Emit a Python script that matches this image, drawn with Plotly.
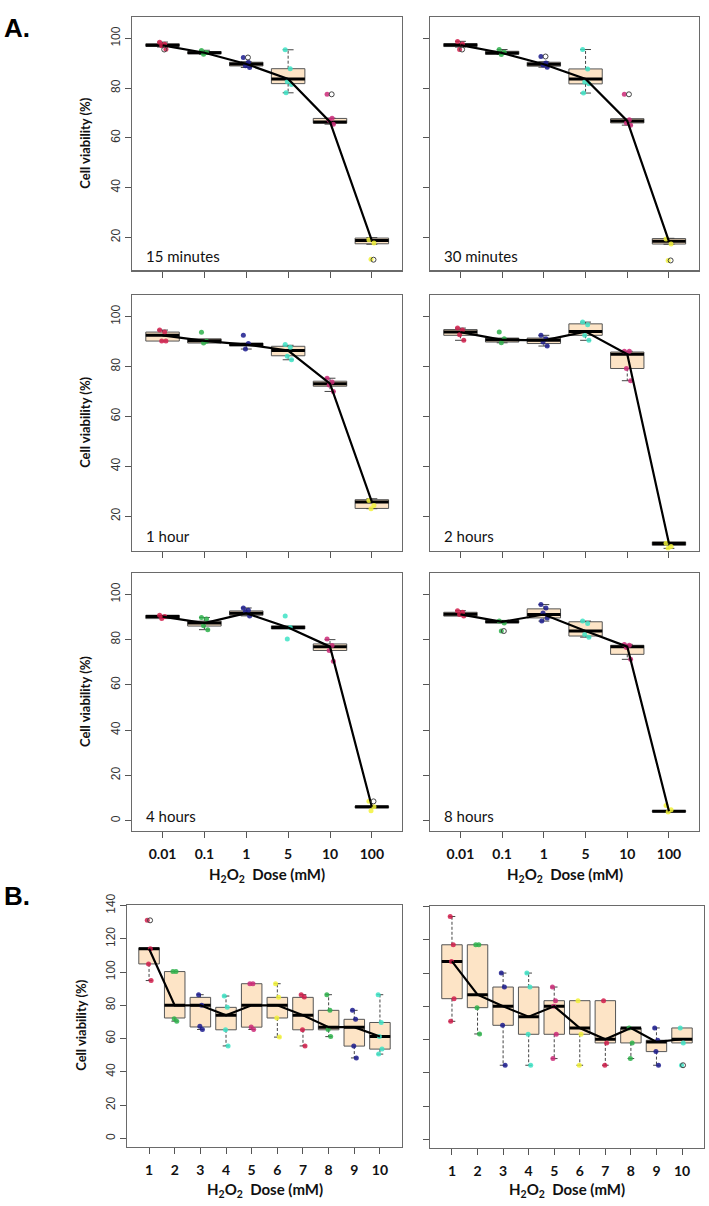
import plotly.graph_objects as go

W, H = 709, 1206

# ---------------- data ----------------
doses_a = ["0.01", "0.1", "1", "5", "10", "100"]
doses_b = ["1", "2", "3", "4", "5", "6", "7", "8", "9", "10"]
panel_labels = ["15 minutes", "30 minutes", "1 hour", "2 hours", "4 hours", "8 hours"]

# Panel A1: 15 minutes
m15_q1 = [96.8, 93.8, 88.9, 81.8, 65.9, 17.4]
m15_med = [97.2, 94.2, 89.7, 83.7, 66.4, 18.7]
m15_q3 = [97.8, 94.7, 90.4, 87.8, 67.8, 19.7]
m15_lo = [96.5, 93.6, 88.3, 78.1, 65.5, 17.2]
m15_hi = [98.5, 95.2, 90.6, 95.4, 67.9, 19.9]
m15_pts = [[98.4, 97.6, 97.0, 95.6], [95.1, 94.3, 93.6], [92.3, 90.4, 89.0, 88.3],
           [95.4, 87.8, 82.5, 81.4, 78.1], [77.5, 67.9, 67.1, 65.5], [19.0, 17.7, 11.2]]
m15_out = [[95.5], [], [92.3], [], [77.5], [11.0]]

# Panel A2: 30 minutes
m30_q1 = [96.7, 93.6, 88.8, 81.7, 66.0, 17.3]
m30_med = [97.3, 94.1, 89.6, 83.7, 66.8, 18.4]
m30_q3 = [97.9, 94.8, 90.4, 87.7, 67.7, 19.5]
m30_lo = [96.5, 93.5, 88.4, 78.0, 65.1, 17.2]
m30_hi = [98.8, 95.5, 90.6, 95.5, 67.7, 19.6]
m30_pts = [[98.7, 97.7, 95.5], [95.5, 94.4, 93.5], [92.7, 90.1, 89.3, 88.4],
           [95.5, 87.7, 82.4, 81.7, 78.0], [77.5, 67.3, 66.0, 65.1], [19.3, 17.3, 10.7]]
m30_out = [[95.5], [], [92.7], [], [77.5], [10.7]]

# Panel A3: 1 hour
h1_q1 = [90.2, 89.4, 88.2, 84.3, 72.1, 23.1]
h1_med = [92.5, 90.3, 88.8, 86.4, 73.1, 25.7]
h1_q3 = [93.8, 91.1, 89.4, 88.1, 74.1, 26.6]
h1_lo = [90.2, 89.4, 87.0, 82.7, 70.0, 23.0]
h1_hi = [94.6, 91.1, 89.4, 88.5, 75.3, 27.0]
h1_pts = [[94.6, 93.8, 90.2, 90.2], [93.7, 90.1, 89.4], [92.5, 89.2, 87.0],
          [88.8, 87.7, 84.1, 82.7], [75.3, 73.8, 72.6, 70.0], [26.3, 24.3, 23.0]]
h1_out = [[], [], [], [], [], []]

# Panel A4: 2 hours
h2_q1 = [92.5, 89.8, 89.2, 92.5, 79.2, 8.3]
h2_med = [93.8, 90.7, 90.5, 94.0, 84.9, 9.0]
h2_q3 = [94.8, 91.4, 91.4, 97.1, 85.8, 9.7]
h2_lo = [90.5, 89.5, 88.2, 90.5, 74.3, 7.1]
h2_hi = [95.4, 91.4, 92.5, 97.8, 86.1, 9.7]
h2_pts = [[95.4, 94.6, 92.7, 90.5], [93.8, 91.1, 89.5], [92.5, 91.1, 89.8, 88.2],
          [97.8, 96.7, 92.5, 90.5], [86.1, 86.1, 79.2, 74.3], [9.1, 7.8, 7.1]]
h2_out = [[], [], [], [], [], []]

# Panel A5: 4 hours
h4_q1 = [89.3, 86.0, 90.8, 84.7, 75.2, 5.6]
h4_med = [90.2, 87.3, 91.7, 85.4, 76.9, 6.1]
h4_q3 = [90.8, 88.2, 92.7, 86.1, 78.1, 6.4]
h4_lo = [89.3, 84.4, 90.5, 84.7, 75.2, 5.6]
h4_hi = [90.8, 89.8, 94.0, 86.1, 80.0, 6.4]
h4_pts = [[90.8, 90.2, 89.3], [89.8, 89.1, 86.1, 84.4], [94.0, 93.0, 92.3, 90.5],
          [90.5, 85.4, 80.3], [80.3, 77.4, 75.2, 70.4], [8.5, 6.1, 4.4]]
h4_out = [[], [], [], [], [], [8.5]]

# Panel A6: 8 hours
h8_q1 = [90.4, 87.4, 89.6, 81.6, 73.5, 3.8]
h8_med = [91.2, 87.9, 91.1, 83.8, 76.9, 4.1]
h8_q3 = [92.1, 88.5, 93.6, 87.9, 77.5, 4.4]
h8_lo = [90.4, 87.4, 88.2, 81.1, 71.3, 3.8]
h8_hi = [92.8, 88.5, 95.5, 88.2, 77.9, 4.4]
h8_pts = [[92.8, 92.1, 91.1, 90.4], [88.2, 87.4, 83.8], [95.5, 94.0, 91.8, 89.6, 88.2],
          [88.2, 87.1, 82.3, 81.1], [77.9, 77.5, 76.5, 71.3], [6.7, 4.8, 3.8]]
h8_out = [[], [83.8], [], [], [], []]

# Panel B left
bl_q1 = [104.9, 72.4, 67.0, 65.3, 66.9, 72.4, 65.3, 65.3, 55.5, 53.7]
bl_med = [114.0, 80.0, 80.0, 74.0, 80.0, 80.0, 74.0, 66.9, 66.9, 61.3]
bl_q3 = [114.6, 100.3, 84.8, 78.8, 93.0, 84.8, 84.8, 77.0, 71.6, 69.7]
bl_lo = [94.9, 70.5, 65.5, 55.6, 65.5, 60.9, 55.6, 61.2, 48.4, 50.7]
bl_hi = [114.6, 100.3, 86.4, 85.6, 93.0, 93.0, 86.4, 86.4, 77.0, 86.4]
bl_pts = [[131.1, 114.0, 104.9, 94.9], [100.3, 100.3, 72.0, 70.5], [86.4, 80.0, 67.5, 65.5],
          [85.6, 78.8, 65.3, 55.6], [93.0, 93.0, 67.0, 65.5], [93.0, 84.8, 72.4, 60.9],
          [86.4, 85.0, 65.3, 55.6], [86.4, 77.0, 65.5, 61.2], [77.0, 71.6, 55.5, 48.4],
          [86.4, 69.7, 61.3, 53.7, 50.7]]
bl_out = [[131.1], [], [], [], [], [], [], [], [], []]

# Panel B right
br_q1 = [84.6, 79.2, 68.6, 63.2, 63.2, 63.2, 58.0, 58.0, 52.8, 58.0]
br_med = [107.0, 87.0, 80.0, 73.8, 80.0, 67.0, 60.2, 67.0, 58.6, 60.2]
br_q3 = [117.0, 117.0, 91.6, 91.6, 83.4, 83.4, 83.4, 67.0, 59.6, 67.0]
br_lo = [71.0, 63.4, 44.6, 44.6, 48.6, 44.6, 44.6, 48.6, 44.6, 58.0]
br_hi = [134.0, 117.0, 100.0, 100.0, 91.6, 83.4, 83.4, 67.0, 67.0, 67.0]
br_pts = [[134.0, 117.0, 107.0, 84.6, 71.0], [117.0, 117.0, 79.2, 63.4], [100.0, 91.6, 68.6, 44.6],
          [100.0, 91.6, 63.2, 44.6], [91.6, 83.4, 80.0, 63.2, 48.6], [83.4, 63.2, 44.6],
          [83.4, 58.0, 44.6], [67.0, 58.0, 48.6], [67.0, 59.6, 52.8, 44.6], [67.0, 58.0, 44.6]]
br_out = [[], [], [], [], [], [], [], [], [], [44.6]]

# ---------------- styles ----------------
dot_colors = ["#D21F4C", "#2EB24B", "#1C1C8E", "#3EE3C6", "#CC2A78", "#F2F23A"]
box_fill = "#FDE4C6"
box_line = "#555555"
frame_col = "#6a6a6a"
txt_font = "Lato"

panels = [
    dict(q1=m15_q1, med=m15_med, q3=m15_q3, lo=m15_lo, hi=m15_hi, pts=m15_pts, out=m15_out, cats=doses_a),
    dict(q1=m30_q1, med=m30_med, q3=m30_q3, lo=m30_lo, hi=m30_hi, pts=m30_pts, out=m30_out, cats=doses_a),
    dict(q1=h1_q1, med=h1_med, q3=h1_q3, lo=h1_lo, hi=h1_hi, pts=h1_pts, out=h1_out, cats=doses_a),
    dict(q1=h2_q1, med=h2_med, q3=h2_q3, lo=h2_lo, hi=h2_hi, pts=h2_pts, out=h2_out, cats=doses_a),
    dict(q1=h4_q1, med=h4_med, q3=h4_q3, lo=h4_lo, hi=h4_hi, pts=h4_pts, out=h4_out, cats=doses_a),
    dict(q1=h8_q1, med=h8_med, q3=h8_q3, lo=h8_lo, hi=h8_hi, pts=h8_pts, out=h8_out, cats=doses_a),
    dict(q1=bl_q1, med=bl_med, q3=bl_q3, lo=bl_lo, hi=bl_hi, pts=bl_pts, out=bl_out, cats=doses_b),
    dict(q1=br_q1, med=br_med, q3=br_q3, lo=br_lo, hi=br_hi, pts=br_pts, out=br_out, cats=doses_b),
]

# pixel boxes of plot areas (left, right, top, bottom)
geom = [
    (132, 402, 5, 261), (430, 699, 5, 261),
    (132, 402, 286, 544), (430, 699, 286, 544),
    (132, 402, 567, 827), (430, 699, 567, 827),
    (127, 402, 902, 1146), (430, 704, 903, 1147),
]
yranges = [[6.7, 108.6], [6.7, 108.6], [6.2, 108.6], [6.2, 108.6],
           [-4.5, 109.3], [-4.5, 109.3], [-4.9, 140.3], [-4.9, 140.3]]
xranges = [[0.27, 6.72]] * 6 + [[0.14, 10.86]] * 2
ytickvals = [[20, 40, 60, 80, 100]] * 4 + [[0, 20, 40, 60, 80, 100]] * 2 + [[0, 20, 40, 60, 80, 100, 120, 140]] * 2
show_xlab = [False, False, False, False, True, True, True, True]
show_ylab = [True, False, True, False, True, False, True, False]

jit = [-0.07, 0.05, -0.02, 0.08, -0.05]
box_w = 0.8
cap_w = 0.13

fig = go.Figure()
layout_axes = {}

for i, p in enumerate(panels):
    n = i + 1
    xa = "x" if n == 1 else f"x{n}"
    ya = "y" if n == 1 else f"y{n}"
    cats = list(range(1, len(p["cats"]) + 1))

    # boxes
    fig.add_trace(go.Box(
        x=cats, q1=p["q1"], median=p["med"], q3=p["q3"],
        lowerfence=p["q1"], upperfence=p["q3"], width=box_w,
        fillcolor=box_fill, line=dict(color=box_line, width=1),
        boxpoints=False, whiskerwidth=0, hoverinfo="skip", showlegend=False,
        xaxis=xa, yaxis=ya))

    # whiskers (dashed) and caps
    wx, wy, cx, cy = [], [], [], []
    for k, c in enumerate(cats):
        if p["hi"][k] > p["q3"][k]:
            wx += [c, c, None]; wy += [p["q3"][k], p["hi"][k], None]
            cx += [c - cap_w, c + cap_w, None]; cy += [p["hi"][k], p["hi"][k], None]
        if p["lo"][k] < p["q1"][k]:
            wx += [c, c, None]; wy += [p["q1"][k], p["lo"][k], None]
            cx += [c - cap_w, c + cap_w, None]; cy += [p["lo"][k], p["lo"][k], None]
    fig.add_trace(go.Scatter(x=wx, y=wy, mode="lines", line=dict(color="#444", width=1, dash="3px,2px"),
                             hoverinfo="skip", showlegend=False, xaxis=xa, yaxis=ya))
    fig.add_trace(go.Scatter(x=cx, y=cy, mode="lines", line=dict(color="#444", width=1),
                             hoverinfo="skip", showlegend=False, xaxis=xa, yaxis=ya))

    # medians
    mx, my = [], []
    for k, c in enumerate(cats):
        mx += [c - box_w / 2, c + box_w / 2, None]
        my += [p["med"][k], p["med"][k], None]
    fig.add_trace(go.Scatter(x=mx, y=my, mode="lines", line=dict(color="black", width=3),
                             hoverinfo="skip", showlegend=False, xaxis=xa, yaxis=ya))

    # jittered points
    px_, py_, pc_ = [], [], []
    for k, c in enumerate(cats):
        for j, v in enumerate(p["pts"][k]):
            px_.append(c + jit[j % len(jit)])
            py_.append(v)
            pc_.append(dot_colors[k % len(dot_colors)])
    fig.add_trace(go.Scatter(x=px_, y=py_, mode="markers",
                             marker=dict(color=pc_, size=5, opacity=0.85, line=dict(width=0)),
                             hoverinfo="skip", showlegend=False, xaxis=xa, yaxis=ya))

    # connecting line through medians
    fig.add_trace(go.Scatter(x=cats, y=p["med"], mode="lines", line=dict(color="black", width=2.2),
                             hoverinfo="skip", showlegend=False, xaxis=xa, yaxis=ya))

    # outliers (open circles)
    ox, oy = [], []
    for k, c in enumerate(cats):
        for v in p["out"][k]:
            ox.append(c + 0.04); oy.append(v)
    if ox:
        fig.add_trace(go.Scatter(x=ox, y=oy, mode="markers",
                                 marker=dict(symbol="circle-open", color="#444", size=5, line=dict(width=1)),
                                 hoverinfo="skip", showlegend=False, xaxis=xa, yaxis=ya))

    l, r, t, b = geom[i]
    xkey = "xaxis" if n == 1 else f"xaxis{n}"
    ykey = "yaxis" if n == 1 else f"yaxis{n}"
    layout_axes[xkey] = dict(
        domain=[l / W, r / W], range=xranges[i], anchor=ya,
        tickvals=cats, ticktext=p["cats"], showticklabels=show_xlab[i],
        showline=True, mirror=True, linecolor=frame_col, linewidth=1.2,
        ticks="outside", ticklen=6, tickcolor="#555", tickwidth=1,
        showgrid=False, zeroline=False, ticklabelstandoff=4,
        tickfont=dict(family=txt_font, size=14, color="#111", weight="bold"))
    layout_axes[ykey] = dict(
        domain=[1 - b / H, 1 - t / H], range=yranges[i], anchor=xa,
        tickvals=ytickvals[i], showticklabels=show_ylab[i], tickangle=-90,
        showline=True, mirror=True, linecolor=frame_col, linewidth=1.2,
        ticks="outside", ticklen=6, tickcolor="#555", tickwidth=1,
        showgrid=False, zeroline=False,
        tickfont=dict(family="Liberation Sans", size=12, color="#333"))

annotations = []
# panel time labels
for i in range(6):
    l, r, t, b = geom[i]
    annotations.append(dict(text=panel_labels[i], xref="paper", yref="paper",
                            x=(l + 12) / W, y=1 - (b - 15) / H, xanchor="left", yanchor="middle",
                            showarrow=False, font=dict(family=txt_font, size=15, color="#111")))
# y-axis titles (left column)
for i in [0, 2, 4, 6]:
    l, r, t, b = geom[i]
    annotations.append(dict(text="Cell viability (%)", xref="paper", yref="paper",
                            x=(85 if i < 6 else 81) / W, y=1 - ((t + b) / 2) / H, textangle=-90,
                            xanchor="center", yanchor="middle", showarrow=False,
                            font=dict(family=txt_font, size=13, color="#111", weight="bold")))
# x-axis titles
xtitle = "H<sub>2</sub>O<sub>2</sub>\u00a0\u00a0Dose (mM)"
for i, ypix in [(4, 872), (5, 872), (6, 1190), (7, 1190)]:
    l, r, t, b = geom[i]
    annotations.append(dict(text=xtitle, xref="paper", yref="paper",
                            x=((l + r) / 2) / W, y=1 - ypix / H, xanchor="center", yanchor="middle",
                            showarrow=False, font=dict(family=txt_font, size=15, color="#111", weight="bold")))
# section letters
for letter, ypix in [("A.", 16), ("B.", 893)]:
    annotations.append(dict(text=letter, xref="paper", yref="paper", x=2 / W, y=1 - ypix / H,
                            xanchor="left", yanchor="middle", showarrow=False,
                            font=dict(family="Liberation Sans", size=26, color="black", weight="bold")))

fig.update_layout(
    width=W, height=H, margin=dict(l=0, r=0, t=0, b=0),
    paper_bgcolor="white", plot_bgcolor="white", showlegend=False,
    boxmode="overlay", annotations=annotations, **layout_axes)

fig.write_html("out.html",
               config={"displayModeBar": False, "staticPlot": True},
               post_script="document.body.style.margin='0';document.body.style.overflow='hidden';")
